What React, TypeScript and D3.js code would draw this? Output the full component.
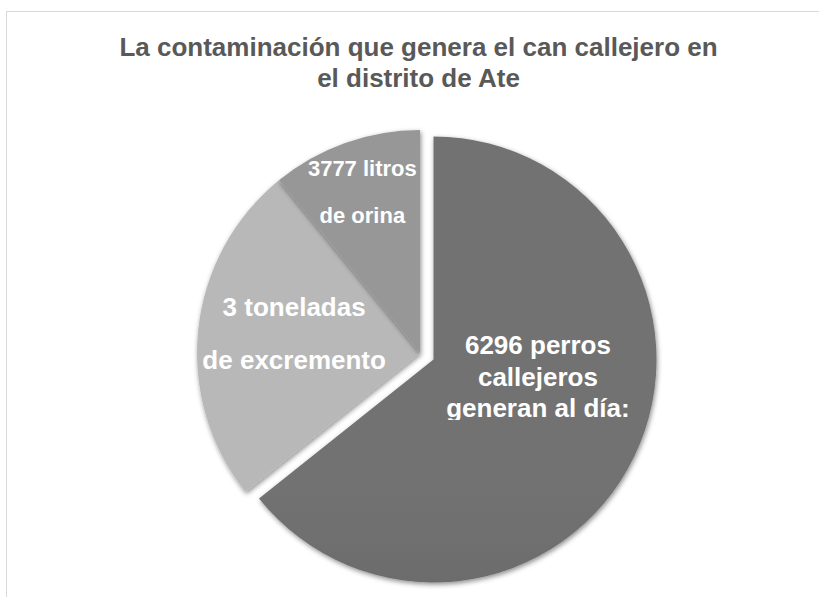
import React, { useRef, useEffect } from 'react';
import * as d3 from 'd3';

// slice data, in drawing order (clockwise from 12 o'clock)
const categories = ['perros', 'excremento', 'orina'];
const values = [64.3, 24.8, 10.9];
const labelLines = [
  ['6296 perros', 'callejeros', 'generan al día:'],
  ['3 toneladas', 'de excremento'],
  ['3777 litros', 'de orina'],
];
const titleLines = ['La contaminación que genera el can callejero en', 'el distrito de Ate'];

const W = 819;
const H = 597;

const App: React.FC = () => {
  const svgRef = useRef<SVGSVGElement | null>(null);

  useEffect(() => {
    const svg = d3.select(svgRef.current);
    svg.selectAll('*').remove();

    const cx = 420;
    const cy = 353;
    const radius = 223;
    const explode = 15;

    const defs = svg.append('defs');
    const shadow = defs.append('filter')
      .attr('id', 'shadow')
      .attr('x', '-20%').attr('y', '-20%')
      .attr('width', '140%').attr('height', '140%');
    shadow.append('feDropShadow')
      .attr('dx', 1).attr('dy', 2)
      .attr('stdDeviation', 2.5)
      .attr('flood-color', '#000')
      .attr('flood-opacity', 0.45);

    const grads: [string, string][] = [
      ['#727272', '#565656'],
      ['#b8b8b8', '#a2a2a2'],
      ['#979797', '#858585'],
    ];
    grads.forEach((g, i) => {
      const lg = defs.append('linearGradient')
        .attr('id', `grad${i}`)
        .attr('gradientUnits', 'userSpaceOnUse')
        .attr('x1', 0).attr('x2', 0)
        .attr('y1', cy - radius).attr('y2', cy + radius);
      lg.append('stop').attr('offset', '0%').attr('stop-color', g[0]);
      lg.append('stop').attr('offset', '100%').attr('stop-color', g[1]);
    });

    defs.append('clipPath').attr('id', 'labelClip0')
      .append('rect')
      .attr('x', 0).attr('y', 0).attr('width', W).attr('height', 420);

    // frame
    svg.append('rect')
      .attr('x', 6.5).attr('y', 11.5)
      .attr('width', W).attr('height', H)
      .attr('fill', '#fff')
      .attr('stroke', '#d9d9d9');

    // title
    const title = svg.append('text')
      .attr('text-anchor', 'middle')
      .attr('font-family', '"Liberation Sans", Arial, sans-serif')
      .attr('font-weight', 'bold')
      .attr('font-size', 26)
      .attr('fill', '#595959');
    titleLines.forEach((t, i) => {
      title.append('tspan')
        .attr('x', 418.5)
        .attr('y', 56 + i * 31)
        .text(t);
    });

    const pie = d3.pie<number>().sort(null).value((d) => d);
    const arcs = pie(values);
    const arc = d3.arc<d3.PieArcDatum<number>>().innerRadius(0).outerRadius(radius);

    const offsetOf = (d: d3.PieArcDatum<number>, i: number) => {
      if (i !== 0) return [0, 0];
      const mid = (d.startAngle + d.endAngle) / 2;
      return [Math.sin(mid) * explode, -Math.cos(mid) * explode];
    };

    const g = svg.append('g');
    arcs.forEach((d, i) => {
      const [ox, oy] = offsetOf(d, i);
      g.append('path')
        .attr('d', arc(d) as string)
        .attr('transform', `translate(${cx + ox},${cy + oy})`)
        .attr('fill', `url(#grad${i})`)
        .attr('filter', 'url(#shadow)')
        .attr('data-cat', categories[i]);
    });

    // labels: anchor on the slice centroid, lines offset around it
    const labelLayout = [
      { k: 0.5, dx: 4, dy: [-54, -22, 9], size: 26 },
      { k: 0.5, dx: -15, dy: [-25, 28], size: 26 },
      { k: 0.75, dx: -1.5, dy: [-19, 28], size: 22 },
    ];
    arcs.forEach((d, i) => {
      const [ox, oy] = offsetOf(d, i);
      const L = labelLayout[i];
      const la = d3.arc<d3.PieArcDatum<number>>()
        .innerRadius(radius * L.k).outerRadius(radius * L.k);
      const [px, py] = la.centroid(d);
      const t = svg.append('text')
        .attr('text-anchor', 'middle')
        .attr('font-family', '"Liberation Sans", Arial, sans-serif')
        .attr('font-weight', 'bold')
        .attr('font-size', L.size)
        .attr('fill', '#fff');
      if (i === 0) t.attr('clip-path', 'url(#labelClip0)');
      labelLines[i].forEach((line, j) => {
        t.append('tspan')
          .attr('x', cx + ox + px + L.dx)
          .attr('y', cy + oy + py + L.dy[j])
          .text(line);
      });
    });
  }, []);

  return (
    <div style={{ position: 'fixed', left: 0, top: 0, width: W, height: H, background: '#fff' }}>
      <svg ref={svgRef} width={W} height={H}></svg>
    </div>
  );
};

export default App;
